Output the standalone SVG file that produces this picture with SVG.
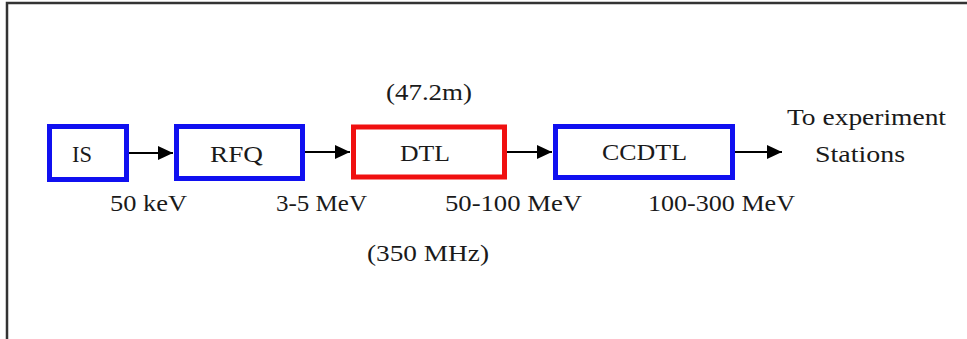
<svg xmlns="http://www.w3.org/2000/svg" width="967" height="339" viewBox="0 0 967 339">
<style>
.t{font-family:"Liberation Serif","Times New Roman",serif;font-size:24px;fill:#1a1a1a}
.blue{fill:none;stroke:#1010f0;stroke-width:5}
.red{fill:none;stroke:#f01010;stroke-width:5}
.c{stroke:#000;stroke-width:2;fill:none}
</style>
<defs>
<marker id="ah" markerUnits="userSpaceOnUse" markerWidth="16" markerHeight="14" refX="15" refY="7" orient="auto">
<path d="M0,0 L15,7 L0,14 Z" fill="#000"/>
</marker>
</defs>
<rect x="0" y="0" width="967" height="339" fill="#fff"/>
<rect x="7" y="3" width="1000" height="400" fill="none" stroke="#333" stroke-width="2.5"/>
<g id="IS"><rect class="blue" x="49.5" y="126.5" width="77" height="53"/><text class="t" x="72" y="162" textLength="20" lengthAdjust="spacingAndGlyphs">IS</text></g>
<g id="RFQ"><rect class="blue" x="176.5" y="126.5" width="126" height="52"/><text class="t" x="210" y="162" textLength="53" lengthAdjust="spacingAndGlyphs">RFQ</text></g>
<g id="DTL"><rect class="red" x="353.5" y="127" width="151" height="50"/><text class="t" x="400" y="161" textLength="50" lengthAdjust="spacingAndGlyphs">DTL</text></g>
<g id="CCDTL"><rect class="blue" x="555.5" y="126.5" width="177" height="51"/><text class="t" x="602" y="160" textLength="85" lengthAdjust="spacingAndGlyphs">CCDTL</text></g>
<g id="connectors">
<line class="c" x1="129" y1="153" x2="173" y2="153" marker-end="url(#ah)"/>
<line class="c" x1="305" y1="152" x2="350" y2="152" marker-end="url(#ah)"/>
<line class="c" x1="507" y1="152" x2="552" y2="152" marker-end="url(#ah)"/>
<line class="c" x1="735" y1="152" x2="782" y2="152" marker-end="url(#ah)"/>
</g>
<g id="labels">
<text class="t" x="386" y="100" textLength="86" lengthAdjust="spacingAndGlyphs">(47.2m)</text>
<text class="t" x="787" y="125" textLength="159" lengthAdjust="spacingAndGlyphs">To experiment</text>
<text class="t" x="815" y="162" textLength="90" lengthAdjust="spacingAndGlyphs">Stations</text>
<text class="t" x="110" y="211" textLength="77" lengthAdjust="spacingAndGlyphs">50 keV</text>
<text class="t" x="276" y="211" textLength="91" lengthAdjust="spacingAndGlyphs">3-5 MeV</text>
<text class="t" x="445" y="211" textLength="137" lengthAdjust="spacingAndGlyphs">50-100 MeV</text>
<text class="t" x="648" y="211" textLength="147" lengthAdjust="spacingAndGlyphs">100-300 MeV</text>
<text class="t" x="367" y="261" textLength="122" lengthAdjust="spacingAndGlyphs">(350 MHz)</text>
</g>
</svg>
